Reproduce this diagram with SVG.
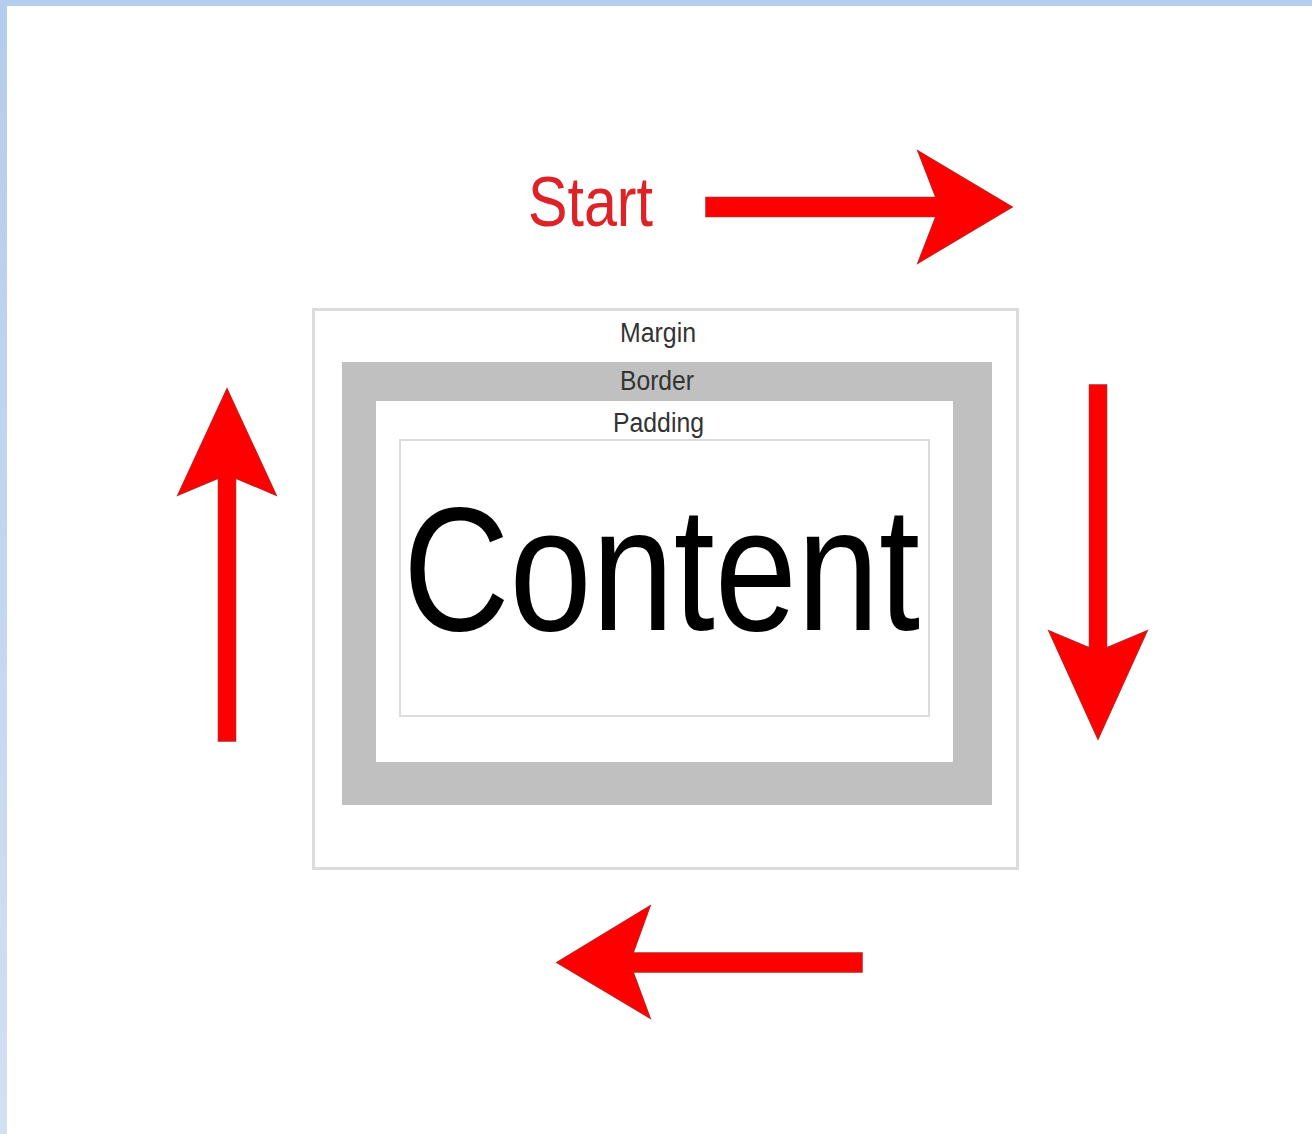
<svg xmlns="http://www.w3.org/2000/svg" width="1312" height="1134" viewBox="0 0 1312 1134">
<defs>
<linearGradient id="lb" x1="0" y1="0" x2="0" y2="1">
<stop offset="0" stop-color="#b4cdec"/>
<stop offset="1" stop-color="#d2e0f3"/>
</linearGradient>
<style>
.arrow{fill:#ff0000;stroke:#d01818;stroke-width:1.5;stroke-linejoin:miter}
.lbl{font-family:"Liberation Sans",Arial,sans-serif;fill:#333;text-anchor:start}
</style>
</defs>
<rect x="0" y="0" width="1312" height="1134" fill="#ffffff"/>
<rect x="0" y="0" width="1312" height="6" fill="#b4cdec"/>
<rect x="0" y="0" width="7" height="1134" fill="url(#lb)"/>

<g id="margin">
<rect x="313.5" y="309.5" width="704" height="559" fill="#ffffff" stroke="#dcdcdc" stroke-width="3"/>
<text class="lbl" x="620" y="342" font-size="27" textLength="76" lengthAdjust="spacingAndGlyphs">Margin</text>
</g>
<g id="border">
<rect x="342" y="362" width="650" height="443" fill="#c0c0c0"/>
<text class="lbl" x="620" y="390" font-size="27" textLength="74" lengthAdjust="spacingAndGlyphs">Border</text>
</g>
<g id="padding">
<rect x="376" y="401" width="577" height="361" fill="#ffffff"/>
<text class="lbl" x="613" y="432" font-size="27" textLength="91" lengthAdjust="spacingAndGlyphs">Padding</text>
</g>
<g id="content">
<rect x="400" y="440" width="529" height="276" fill="#ffffff" stroke="#dcdcdc" stroke-width="2"/>
<text x="403" y="630" font-family="Liberation Sans, Arial, sans-serif" font-size="176" fill="#000000" textLength="517" lengthAdjust="spacingAndGlyphs">Content</text>
</g>
<g id="start">
<text x="528" y="226" font-family="Liberation Sans, Arial, sans-serif" font-size="70" fill="#dd2228" textLength="125" lengthAdjust="spacingAndGlyphs">Start</text>
</g>

<g id="connectors">
<path class="arrow" d="M706,197.5 L936,197.5 L918,151 L1012,207 L918,263 L936,216.5 L706,216.5 Z"/>
<path class="arrow" d="M1089.5,385 L1089.5,648 L1049,631 L1098,739 L1147,631 L1106.5,648 L1106.5,385 Z"/>
<path class="arrow" d="M862,953 L633,953 L650,906 L557,962.5 L650,1018 L633,972 L862,972 Z"/>
<path class="arrow" d="M218.5,741 L218.5,478 L178,495 L227,389 L276,495 L235.5,478 L235.5,741 Z"/>
</g>
</svg>
